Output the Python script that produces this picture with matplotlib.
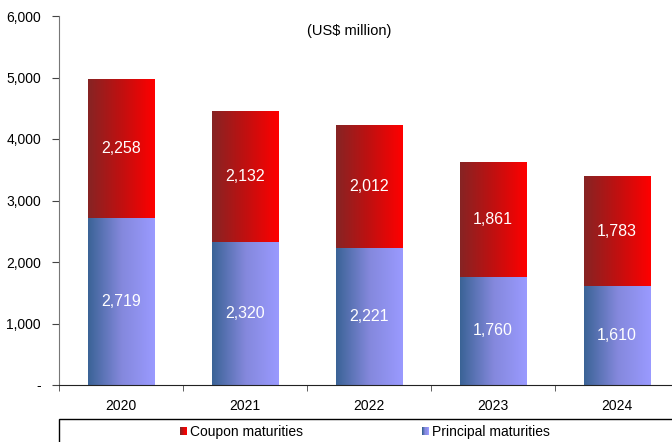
import numpy as np
import matplotlib
matplotlib.use("Agg")
import matplotlib.pyplot as plt
from matplotlib.colors import LinearSegmentedColormap
from matplotlib.patches import Rectangle
from matplotlib.legend_handler import HandlerBase

plt.rcParams['font.family'] = ['Liberation Sans', 'DejaVu Sans']

years = ["2020", "2021", "2022", "2023", "2024"]
principal = [2719, 2320, 2221, 1760, 1610]
coupon = [2258, 2132, 2012, 1861, 1783]
yticks = [0, 1000, 2000, 3000, 4000, 5000, 6000]
ytick_labels = ["-", "1,000", "2,000", "3,000", "4,000", "5,000", "6,000"]

red_cmap = LinearSegmentedColormap.from_list("r", ["#862424", "#C01010", "#FF0000"])
blue_cmap = LinearSegmentedColormap.from_list("b", ["#3A6396", "#8488DC", "#9A9AFF"])

fig = plt.figure(figsize=(6.72, 4.42), dpi=100)
ax = fig.add_axes([59/672, 1-385/442, (672-59)/672, (385-16)/442])

x = np.arange(len(years))
bw = 0.54
b1 = ax.bar(x, principal, width=bw, color="none", edgecolor="none")
b2 = ax.bar(x, coupon, width=bw, bottom=principal, color="none", edgecolor="none")

grad = np.linspace(0, 1, 256).reshape(1, -1)

def fill_gradient(bars, cmap):
    for p in bars:
        x0, y0 = p.get_x(), p.get_y()
        w, h = p.get_width(), p.get_height()
        im = ax.imshow(grad, cmap=cmap, aspect="auto", extent=(x0, x0 + w, y0, y0 + h),
                       zorder=2, interpolation="bilinear")
        im.set_clip_path(p)

fill_gradient(b1, blue_cmap)
fill_gradient(b2, red_cmap)

for i in range(len(years)):
    ax.text(x[i], principal[i] / 2, f"{principal[i]:,}", ha="center", va="center",
            color="white", fontsize=11.5, zorder=3)
    ax.text(x[i], principal[i] + coupon[i] / 2, f"{coupon[i]:,}", ha="center", va="center",
            color="white", fontsize=11.5, zorder=3)

ax.set_xlim(-0.5, -0.5 + (672 - 59) / 124)
ax.set_ylim(0, 6000)
ax.set_yticks(yticks)
ax.set_yticklabels(ytick_labels, fontsize=10)
ax.set_xticks(x)
ax.set_xticklabels(years, fontsize=10)
ax.tick_params(axis="x", length=0, pad=10)
ax.set_xticks(np.arange(-0.5, 4.5, 1.0), minor=True)
ax.tick_params(axis="x", which="minor", length=4, direction="out", color="#444444")
ax.tick_params(axis="y", length=5, direction="out", color="#444444", pad=8)
for s in ["top", "right"]:
    ax.spines[s].set_visible(False)
ax.spines["left"].set_color("#777777")
ax.spines["bottom"].set_color("#222222")

ax.text(0.473, 0.96, "(US$ million)", transform=ax.transAxes, ha="center", va="center", fontsize=10.5)

# legend box
fig.add_artist(Rectangle((59/672, -0.05), 1, (442-419)/442 + 0.05, transform=fig.transFigure,
                         facecolor="white", edgecolor="black", linewidth=1.0))

class GradHandler(HandlerBase):
    def __init__(self, cmap):
        super().__init__()
        self.cmap = cmap
    def create_artists(self, legend, orig_handle, xdescent, ydescent, width, height, fontsize, trans):
        arts = []
        n = 6
        s = height * 0.75
        x0 = width - s
        y0 = (height - s) / 2
        for k in range(n):
            r = Rectangle((x0 + k * s / n, y0), s / n + 0.2, s, facecolor=self.cmap(k / (n - 1)),
                          edgecolor="none", transform=trans)
            arts.append(r)
        return arts

h1 = Rectangle((0, 0), 1, 1)
h2 = Rectangle((0, 0), 1, 1)
fig.legend([h1, h2], ["Coupon maturities", "Principal maturities"],
           handler_map={h1: GradHandler(red_cmap), h2: GradHandler(blue_cmap)},
           loc="center", bbox_to_anchor=(362/672, 1 - 432/442), ncol=2, frameon=False,
           fontsize=10, handlelength=0.9, handletextpad=0.2, columnspacing=8.2)

fig.savefig("out.png", dpi=100)
